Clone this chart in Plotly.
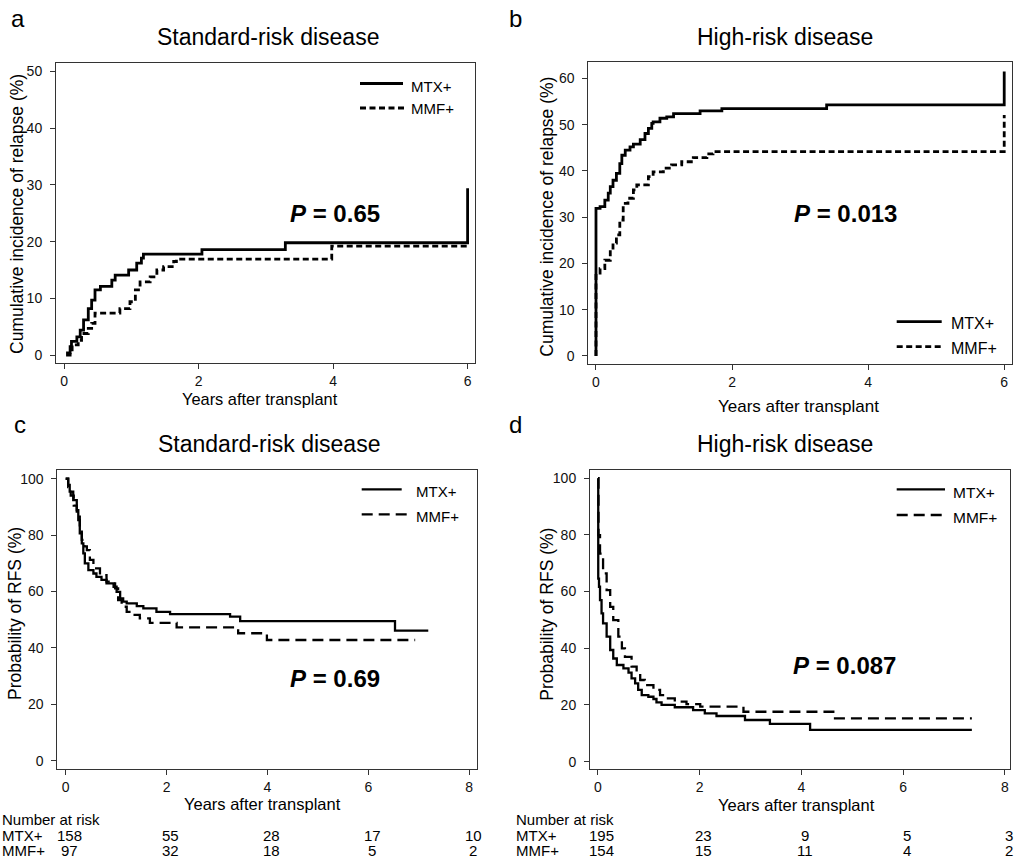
import plotly.graph_objects as go

W, H = 1015, 859

# ---------------- data ----------------
# Panel a: cumulative incidence of relapse, standard-risk disease
a_mtx_t = [0.03, 0.09, 0.11, 0.19, 0.24, 0.29, 0.36, 0.41, 0.46, 0.54, 0.71, 0.76, 0.96,
           1.08, 1.15, 1.18, 2.05, 3.29, 6.0, 6.0]
a_mtx_v = [0.4, 1.5, 2.4, 3.2, 4.4, 6.2, 8.2, 9.7, 11.5, 12.1, 13.2, 14.1, 15.0,
           16.2, 17.1, 17.8, 18.6, 19.8, 19.8, 29.4]
a_mmf_t = [0.03, 0.09, 0.12, 0.21, 0.26, 0.36, 0.41, 0.46, 0.83, 0.98, 1.06, 1.13, 1.28,
           1.38, 1.48, 1.63, 1.67, 3.98, 6.0]
a_mmf_v = [0.0, 0.9, 1.8, 2.6, 3.8, 4.7, 5.6, 7.4, 8.2, 9.4, 11.5, 12.9, 13.8,
           15.0, 15.6, 16.5, 16.9, 19.2, 19.2]

# Panel b: cumulative incidence of relapse, high-risk disease
b_mtx_t = [0, 0, 0.06, 0.13, 0.18, 0.21, 0.25, 0.30, 0.35, 0.38, 0.43, 0.50, 0.55, 0.65,
           0.72, 0.77, 0.82, 0.84, 0.94, 1.04, 1.14, 1.53, 1.85, 3.39, 6.0, 6.0]
b_mtx_v = [0, 31.9, 32.3, 33.7, 35.2, 36.6, 38.0, 39.5, 41.6, 43.4, 44.5, 45.2, 45.8, 46.8,
           48.1, 49.2, 50.3, 50.6, 51.4, 51.7, 52.4, 53.0, 53.5, 54.3, 54.3, 61.5]
b_mmf_t = [0, 0, 0.06, 0.13, 0.21, 0.25, 0.30, 0.35, 0.40, 0.47, 0.55, 0.60, 0.77, 0.84,
           0.99, 1.11, 1.26, 1.43, 1.63, 1.72, 6.0, 6.0]
b_mmf_v = [0, 17.9, 18.9, 20.7, 22.9, 24.4, 26.2, 29.4, 33.0, 34.1, 35.9, 37.0, 38.8, 39.8,
           40.6, 41.3, 42.0, 42.9, 43.7, 44.2, 44.2, 52.1]

# Panel c: relapse-free survival, standard-risk disease
c_mtx_t = [0, 0.05, 0.08, 0.15, 0.22, 0.25, 0.28, 0.32, 0.35, 0.38, 0.45, 0.55, 0.61, 0.71,
           0.81, 0.95, 1.01, 1.08, 1.14, 1.21, 1.41, 1.54, 1.80, 2.07, 3.26, 3.46, 6.53, 7.19]
c_mtx_v = [100, 97.8, 95.4, 92.4, 88.9, 85.3, 80.6, 77.1, 73.5, 70.0, 67.6, 66.4, 65.2, 64.1,
           62.9, 61.7, 59.9, 57.6, 56.4, 55.8, 54.8, 54.0, 52.8, 52.0, 51.1, 49.5, 46.1, 46.1]
c_mmf_t = [0, 0.05, 0.10, 0.16, 0.22, 0.28, 0.32, 0.37, 0.42, 0.48, 0.55, 0.68, 0.81, 0.98,
           1.04, 1.11, 1.21, 1.34, 1.47, 1.67, 2.20, 3.42, 3.99, 6.93]
c_mmf_v = [100, 97.0, 94.0, 90.5, 87.0, 81.8, 78.3, 76.0, 74.7, 71.2, 68.2, 65.8, 63.5, 61.1,
           57.0, 54.6, 52.8, 51.7, 50.5, 48.9, 47.3, 45.2, 42.8, 42.8]

# Panel d: relapse-free survival, high-risk disease
d_mtx_t = [0, 0.005, 0.02, 0.04, 0.07, 0.10, 0.17, 0.24, 0.30, 0.37, 0.50, 0.60, 0.66, 0.73,
           0.79, 0.86, 0.99, 1.09, 1.15, 1.25, 1.51, 1.87, 2.10, 2.33, 2.89, 3.38, 4.17, 7.35]
d_mtx_v = [100, 64.6, 61.7, 57.0, 52.3, 48.8, 44.1, 39.4, 36.4, 34.1, 32.9, 31.4, 29.4, 27.6,
           25.3, 23.5, 22.9, 22.1, 20.9, 20.0, 19.2, 18.2, 17.0, 16.1, 14.7, 13.3, 11.2, 11.2]
d_mmf_t = [0, 0.01, 0.04, 0.10, 0.17, 0.24, 0.30, 0.40, 0.47, 0.53, 0.66, 0.76, 0.83, 0.92,
           1.09, 1.22, 1.35, 1.51, 1.74, 2.01, 2.86, 4.66, 7.35]
d_mmf_v = [100, 79.9, 73.4, 66.4, 60.5, 54.6, 49.9, 44.1, 40.0, 37.0, 33.5, 31.7, 28.8, 27.0,
           25.3, 23.5, 22.3, 21.2, 20.3, 19.4, 17.6, 15.3, 15.3]

group_names = ["MTX+", "MMF+"]
panel_letters = ["a", "b", "c", "d"]
panel_titles = ["Standard-risk disease", "High-risk disease",
                "Standard-risk disease", "High-risk disease"]
p_values = ["0.65", "0.013", "0.69", "0.087"]
y_titles = ["Cumulative incidence of relapse (%)", "Cumulative incidence of relapse (%)",
            "Probability of RFS (%)", "Probability of RFS (%)"]
x_title = "Years after transplant"

risk_times = [0, 2, 4, 6, 8]
c_risk_mtx = [158, 55, 28, 17, 10]
c_risk_mmf = [97, 32, 18, 5, 2]
d_risk_mtx = [195, 23, 9, 5, 3]
d_risk_mmf = [154, 15, 11, 4, 2]

# ---------------- figure ----------------
FONT = "Liberation Sans, Arial, Helvetica, sans-serif"


def px(x):
    return x / W


def py(y):
    return 1 - y / H


fig = go.Figure()

panels = [
    dict(xa="x", ya="y", data=[(a_mtx_t, a_mtx_v), (a_mmf_t, a_mmf_v)], lw=2.8, dash="6px,3.5px"),
    dict(xa="x2", ya="y2", data=[(b_mtx_t, b_mtx_v), (b_mmf_t, b_mmf_v)], lw=2.8, dash="6px,3.5px"),
    dict(xa="x3", ya="y3", data=[(c_mtx_t, c_mtx_v), (c_mmf_t, c_mmf_v)], lw=2.3, dash="11px,6px"),
    dict(xa="x4", ya="y4", data=[(d_mtx_t, d_mtx_v), (d_mmf_t, d_mmf_v)], lw=2.3, dash="11px,6px"),
]

for p in panels:
    for k, (t, v) in enumerate(p["data"]):
        fig.add_trace(go.Scatter(
            x=t, y=v, mode="lines", name=group_names[k],
            line=dict(shape="hv", color="black", width=p["lw"],
                      dash="solid" if k == 0 else p["dash"]),
            xaxis=p["xa"], yaxis=p["ya"], showlegend=False, hoverinfo="x+y+name",
        ))

axis_common = dict(showline=True, linecolor="#333333", linewidth=1, mirror=True,
                   ticks="outside", ticklen=5, tickwidth=1, tickcolor="#333333",
                   showgrid=False, zeroline=False,
                   tickfont=dict(family=FONT, size=14, color="#111111"))
xax = dict(axis_common)
yax = dict(axis_common, ticklabelstandoff=5)

fig.update_layout(
    width=W, height=H,
    margin=dict(l=0, r=0, t=0, b=0),
    paper_bgcolor="white", plot_bgcolor="white",
    font=dict(family=FONT, color="black"),
    showlegend=False,
    xaxis=dict(domain=[px(56), px(475)], range=[-0.12, 6.11], tickvals=[0, 2, 4, 6],
               anchor="y", **xax),
    yaxis=dict(domain=[py(363), py(63)], range=[-1.4, 51.5], tickvals=[0, 10, 20, 30, 40, 50],
               anchor="x", **yax),
    xaxis2=dict(domain=[px(588.3), px(1011.7)], range=[-0.113, 6.11], tickvals=[0, 2, 4, 6],
                anchor="y2", **xax),
    yaxis2=dict(domain=[py(364.3), py(62.3)], range=[-1.8, 63.5],
                tickvals=[0, 10, 20, 30, 40, 50, 60], anchor="x2", **yax),
    xaxis3=dict(domain=[px(57.3), px(476.7)], range=[-0.166, 8.15], tickvals=[0, 2, 4, 6, 8],
                anchor="y3", **xax),
    yaxis3=dict(domain=[py(769.3), py(470)], range=[-3.05, 103.1],
                tickvals=[0, 20, 40, 60, 80, 100], anchor="x3", **yax),
    xaxis4=dict(domain=[px(590), px(1010)], range=[-0.157, 8.1], tickvals=[0, 2, 4, 6, 8],
                anchor="y4", **xax),
    yaxis4=dict(domain=[py(769.3), py(470)], range=[-2.7, 102.9],
                tickvals=[0, 20, 40, 60, 80, 100], anchor="x4", **yax),
)

ann = []


def text(x, y, s, size, xanchor="center", yanchor="middle", angle=0, xref="paper", xshift=0,
         family=FONT):
    ann.append(dict(x=x, y=y, xref=xref, yref="paper", text=s, showarrow=False,
                    xanchor=xanchor, yanchor=yanchor, textangle=angle, xshift=xshift,
                    borderpad=0,
                    font=dict(family=family, size=size, color="black")))


# panel letters
for letter, (lx, ly) in zip(panel_letters, [(10, 18.5), (508, 18.5), (13, 424.5), (508, 424.5)]):
    text(px(lx), py(ly), letter, 24, xanchor="left")

# panel titles
for title, (tx, ty) in zip(panel_titles, [(268, 36.5), (785, 36.5), (269, 443.5), (785, 443.5)]):
    text(px(tx), py(ty), title, 23)

# y axis titles
for yt, (tx, ty) in zip(y_titles, [(17, 214), (546.7, 217), (15, 614), (546.7, 614)]):
    text(px(tx), py(ty), yt, 17.5, angle=-90)

# x axis titles
for (tx, ty, fs) in [(260, 399, 16.4), (798, 406, 17), (262, 804, 16.5), (796, 805, 16.5)]:
    text(px(tx), py(ty), x_title, fs)

# P values
for pv, (tx, ty) in zip(p_values, [(335, 214), (845, 214), (335, 678), (844, 665)]):
    text(px(tx), py(ty), "<b><i>P</i> = " + pv + "</b>", 24)

# legends (key lines + labels)
legend_specs = [
    # x0, x1 solid, x1 dashed, y solid line, y dashed line, text x, text y1, text y2, lw, dash, fs
    (360, 403, 407, 83.5, 108, 410, 86, 109, 2.8, "6px,3.5px", 15),
    (896.7, 941.7, 941.7, 321.7, 346.7, 950, 323.5, 348.5, 2.8, "6px,3.5px", 16),
    (361.7, 401.7, 408.3, 489.3, 514.3, 415, 491.7, 516, 2.3, "11px,6px", 15),
    (896.7, 945, 945, 489.3, 515, 951.7, 492.5, 517.5, 2.3, "11px,6px", 15.5),
]
shapes = []
for (x0, x1s, x1d, ys, yd, tx, ty1, ty2, lw, dash, fs) in legend_specs:
    shapes.append(dict(type="line", xref="paper", yref="paper", x0=px(x0), x1=px(x1s),
                       y0=py(ys), y1=py(ys), line=dict(color="black", width=lw)))
    shapes.append(dict(type="line", xref="paper", yref="paper", x0=px(x0), x1=px(x1d),
                       y0=py(yd), y1=py(yd), line=dict(color="black", width=lw, dash=dash)))
    text(px(tx), py(ty1), group_names[0], fs, xanchor="left")
    text(px(tx), py(ty2), group_names[1], fs, xanchor="left")

# number at risk tables
RISK_FS = 15
for (xref, lab_x, rows) in [("x3", 1, (c_risk_mtx, c_risk_mmf)),
                            ("x4", 515, (d_risk_mtx, d_risk_mmf))]:
    text(px(lab_x), py(819), "Number at risk", RISK_FS, xanchor="left")
    text(px(lab_x), py(835), group_names[0], RISK_FS, xanchor="left")
    text(px(lab_x), py(850), group_names[1], RISK_FS, xanchor="left")
    for row, yy in zip(rows, [835, 850]):
        for t, n in zip(risk_times, row):
            text(t, py(yy), str(n), RISK_FS, xref=xref, xshift=4)

fig.update_layout(annotations=ann, shapes=shapes)

fig.write_html("out.html", config={"displayModeBar": False},
               post_script="document.body.style.margin='0';document.body.style.overflow='hidden';")
